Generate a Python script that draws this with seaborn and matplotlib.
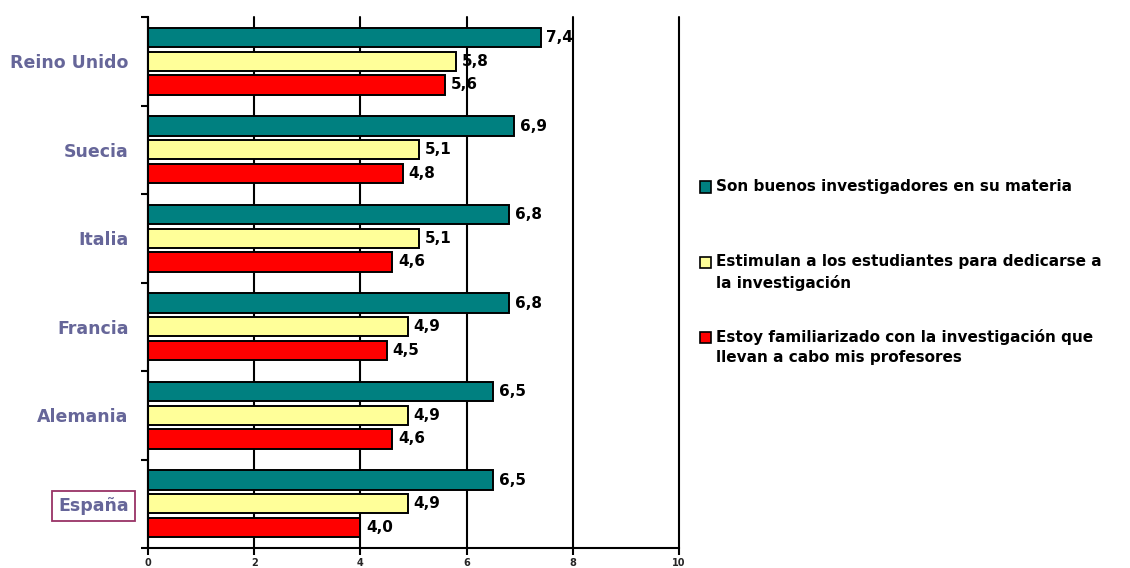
import matplotlib
matplotlib.use("Agg")
import matplotlib.pyplot as plt
from matplotlib.patches import Rectangle
import pandas as pd
import seaborn as sns

countries = ["Reino Unido", "Suecia", "Italia", "Francia", "Alemania", "España"]
series = [
    "Son buenos investigadores en su materia",
    "Estimulan a los estudiantes para dedicarse a\nla investigación",
    "Estoy familiarizado con la investigación que\nllevan a cabo mis profesores",
]
buenos = [7.4, 6.9, 6.8, 6.8, 6.5, 6.5]
estimulan = [5.8, 5.1, 5.1, 4.9, 4.9, 4.9]
familiar = [5.6, 4.8, 4.6, 4.5, 4.6, 4.0]
colors = ["#008080", "#FFFF99", "#FF0000"]
x_ticks = [0, 2, 4, 6, 8, 10]

rows = []
for s, vals in zip(series, [buenos, estimulan, familiar]):
    for c, v in zip(countries, vals):
        rows.append({"pais": c, "serie": s, "valor": v})
df = pd.DataFrame(rows)

sns.set_style("white")
plt.rcParams["font.family"] = ["DejaVu Sans"]
plt.rcParams["font.weight"] = "bold"

fig = plt.figure(figsize=(11.3, 5.68), dpi=100)
ax = fig.add_axes([148 / 1130, 1 - 548 / 568, 531 / 1130, 531 / 568])

sns.barplot(data=df, y="pais", x="valor", hue="serie", order=countries,
            hue_order=series, palette=colors, saturation=1, orient="h",
            width=0.8, gap=0.18, edgecolor="black", linewidth=1.4,
            legend=False, ax=ax)

for cont in ax.containers:
    labels = [f"{v:.1f}".replace(".", ",") for v in cont.datavalues]
    ax.bar_label(cont, labels=labels, padding=4, fontsize=11,
                 fontweight="bold", color="black")

ax.set_xlim(0, 10)
ax.set_ylim(5.5, -0.5)
ax.set_xticks(x_ticks)
ax.set_xticklabels([str(t) for t in x_ticks], fontsize=7, fontweight="bold")
ax.set_xlabel("")
ax.set_ylabel("")
ax.set_axisbelow(True)
ax.grid(axis="x", color="black", linewidth=1.5)
ax.grid(axis="y", visible=False)
for gl in ax.get_xgridlines():
    gl.set_clip_on(False)
for side in ["top", "right"]:
    ax.spines[side].set_visible(False)
for side in ["left", "bottom"]:
    ax.spines[side].set_color("black")
    ax.spines[side].set_linewidth(1.5)

ax.set_yticks(range(len(countries)))
ax.set_yticklabels(countries, fontsize=12.5, fontweight="bold", color="#666699")
ax.set_yticks([i - 0.5 for i in range(len(countries) + 1)], minor=True)
ax.tick_params(axis="y", which="major", length=0, pad=14)
ax.tick_params(axis="y", which="minor", length=5, width=1.5, color="black",
               direction="out", left=True)
ax.tick_params(axis="x", length=5, width=1.5, color="black", direction="out",
               bottom=True, pad=2)

esp = ax.get_yticklabels()[-1]
esp.set_bbox(dict(boxstyle="square,pad=0.35", facecolor="white",
                  edgecolor="#993366", linewidth=1.3))

# legend drawn by hand so that the squares sit on each entry's first line
leg_y = [187, 262, 337]
for s, col, y in zip(series, colors, leg_y):
    fig.patches.append(Rectangle((700 / 1130, 1 - (y + 5.5) / 568), 11 / 1130, 11 / 568,
                                 transform=fig.transFigure, facecolor=col,
                                 edgecolor="black", linewidth=1.2))
    fig.text(716 / 1130, 1 - (y - 8) / 568, s, ha="left", va="top",
             fontsize=11, fontweight="bold", color="black", linespacing=1.45)

fig.savefig("out.png", dpi=100)
